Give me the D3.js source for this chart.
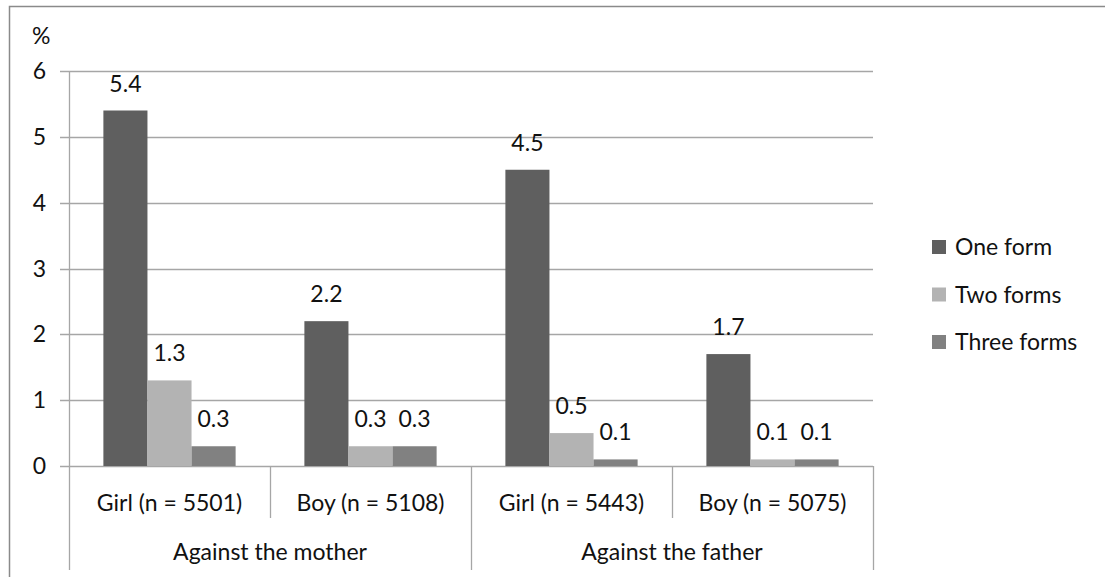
<!DOCTYPE html>
<html>
<head>
<meta charset="utf-8">
<script src="https://cdn.jsdelivr.net/npm/d3@7"></script>
<style>
  body { margin: 0; background: #fff; }
  text { font-family: Lato, "Liberation Sans", sans-serif; fill: #111; }
</style>
</head>
<body>
<div id="chart"></div>
<script>
// data
var groups = ['Against the mother', 'Against the father'];
var categories = ['Girl (n = 5501)', 'Boy (n = 5108)', 'Girl (n = 5443)', 'Boy (n = 5075)'];
var series = ['One form', 'Two forms', 'Three forms'];
var oneForm = [5.4, 2.2, 4.5, 1.7];
var twoForms = [1.3, 0.3, 0.5, 0.1];
var threeForms = [0.3, 0.3, 0.1, 0.1];
var yTicks = [0, 1, 2, 3, 4, 5, 6];
var colors = ['#5f5f5f', '#b3b3b3', '#818181'];

var values = [oneForm, twoForms, threeForms];

var width = 1105, height = 577;
var fs = 23;
var svg = d3.select('#chart').append('svg')
    .attr('width', width)
    .attr('height', height);

// outer frame (right and bottom edges fall off the picture)
svg.append('rect')
    .attr('x', 9.5).attr('y', 6.5)
    .attr('width', 1200).attr('height', 700)
    .attr('fill', 'none')
    .attr('stroke', '#8a8a8a')
    .attr('stroke-width', 1.5);

var plot = { left: 69, right: 873, top: 71, bottom: 466 };

var y = d3.scaleLinear().domain([0, 6]).range([plot.bottom, plot.top]);
var x0 = d3.scaleBand().domain(categories).range([plot.left, plot.right]).padding(0);
var x1 = d3.scaleBand().domain(series).range([0, x0.bandwidth()]).paddingOuter(0.78).paddingInner(0);

// gridlines
svg.append('g').selectAll('line')
    .data(yTicks)
    .enter().append('line')
    .attr('x1', 60).attr('x2', plot.right)
    .attr('y1', d => Math.round(y(d)) + 0.5)
    .attr('y2', d => Math.round(y(d)) + 0.5)
    .attr('stroke', '#a6a6a6')
    .attr('stroke-width', 1.3);

// y tick labels
svg.append('g').selectAll('text')
    .data(yTicks)
    .enter().append('text')
    .attr('x', 46)
    .attr('y', d => y(d) + 8)
    .attr('text-anchor', 'end')
    .attr('font-size', fs)
    .text(d => d);

svg.append('text')
    .attr('x', 32).attr('y', 44)
    .attr('font-size', fs)
    .text('%');

// y axis line
svg.append('line')
    .attr('x1', plot.left + 0.5).attr('x2', plot.left + 0.5)
    .attr('y1', plot.top).attr('y2', 570)
    .attr('stroke', '#a6a6a6').attr('stroke-width', 1.3);

// bars
var catG = svg.append('g').selectAll('g')
    .data(categories)
    .enter().append('g')
    .attr('transform', d => 'translate(' + x0(d) + ',0)');

catG.selectAll('rect')
    .data((c, i) => series.map((s, j) => ({ s: s, v: values[j][i], j: j })))
    .enter().append('rect')
    .attr('x', d => x1(d.s))
    .attr('width', x1.bandwidth())
    .attr('y', d => y(d.v))
    .attr('height', d => plot.bottom - y(d.v))
    .attr('fill', d => colors[d.j]);

catG.selectAll('text.val')
    .data((c, i) => series.map((s, j) => ({ s: s, v: values[j][i], j: j })))
    .enter().append('text')
    .attr('class', 'val')
    .attr('x', d => x1(d.s) + x1.bandwidth() / 2)
    .attr('y', d => y(d.v) - 19)
    .attr('text-anchor', 'middle')
    .attr('font-size', fs)
    .text(d => d3.format('.1f')(d.v));

// category axis: separators and labels
var sep = svg.append('g');
categories.forEach(function (c, i) {
    var xr = x0(c) + x0.bandwidth();
    sep.append('line')
        .attr('x1', Math.round(xr) + 0.5).attr('x2', Math.round(xr) + 0.5)
        .attr('y1', plot.bottom)
        .attr('y2', i % 2 === 1 ? 570 : 518)
        .attr('stroke', '#a6a6a6').attr('stroke-width', 1.3);
});

svg.append('g').selectAll('text')
    .data(categories)
    .enter().append('text')
    .attr('x', d => x0(d) + x0.bandwidth() / 2)
    .attr('y', 511)
    .attr('text-anchor', 'middle')
    .attr('font-size', fs)
    .text(d => d);

svg.append('g').selectAll('text')
    .data(groups)
    .enter().append('text')
    .attr('x', (d, i) => x0(categories[i * 2]) + x0.bandwidth())
    .attr('y', 560)
    .attr('text-anchor', 'middle')
    .attr('font-size', fs)
    .text(d => d);

// legend
var leg = svg.append('g').selectAll('g')
    .data(series)
    .enter().append('g')
    .attr('transform', (d, i) => 'translate(932,' + (247 + i * 47.5) + ')');

leg.append('rect')
    .attr('x', 0).attr('y', -7)
    .attr('width', 14).attr('height', 14)
    .attr('fill', (d, i) => colors[i]);

leg.append('text')
    .attr('x', 23).attr('y', 8)
    .attr('font-size', fs)
    .text(d => d);
</script>
</body>
</html>
